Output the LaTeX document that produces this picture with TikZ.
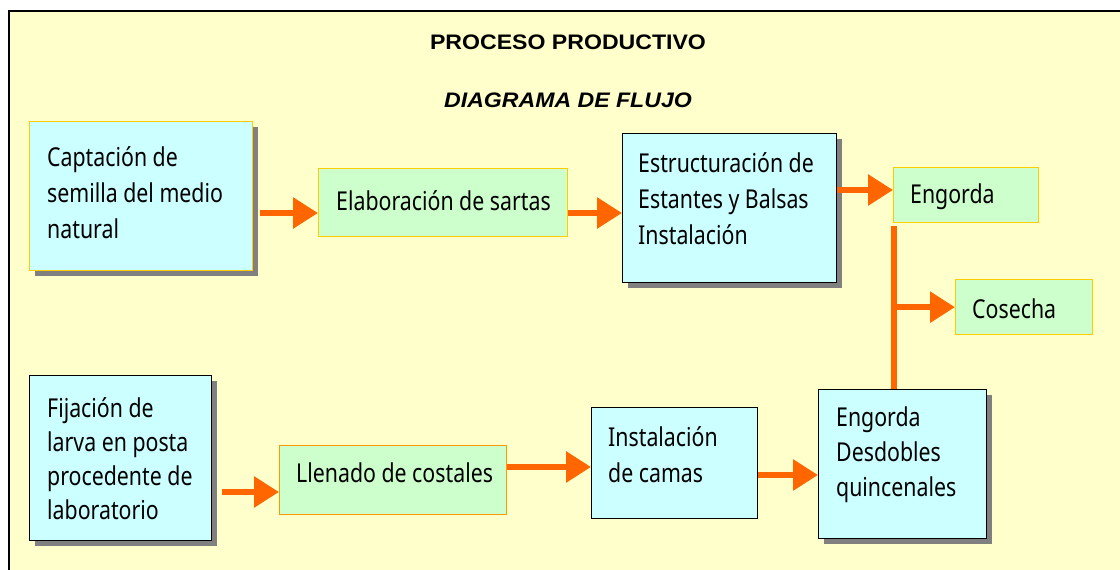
\documentclass[tikz,border=0pt]{standalone}
\usepackage{fontspec}
\setmainfont{Noto Sans}[FakeStretch=0.82]
\newfontfamily\titlefont{Liberation Sans}[FakeStretch=1.1]
\usetikzlibrary{arrows.meta}
\definecolor{bgy}{HTML}{FFFFCC}
\definecolor{cyanb}{HTML}{CCFFFF}
\definecolor{greenb}{HTML}{CCFFCC}
\definecolor{goldb}{HTML}{FFCC00}
\definecolor{orangeb}{HTML}{FF9900}
\definecolor{arrc}{HTML}{FF6600}
\definecolor{shad}{HTML}{808080}
\begin{document}
\begin{tikzpicture}[x=1pt,y=-1pt,
  bx/.style={rectangle, anchor=north west, inner sep=0pt, line width=1.3pt},
  cy/.style={bx, fill=cyanb, draw=black},
  cyg/.style={bx, fill=cyanb, draw=goldb},
  gr/.style={bx, fill=greenb, draw=goldb},
  gro/.style={bx, fill=greenb, draw=orangeb},
  shadowed/.style={preaction={fill=shad, draw=none, transform canvas={xshift=5pt, yshift=-5pt}}},
  txt/.style={anchor=west, align=left, inner sep=0pt, font=\fontsize{26}{36}\selectfont},
  ln/.style={draw=arrc, line width=6pt},
  arr/.style={ln, -{Triangle[length=25pt,width=30pt]}},
  ttl/.style={inner sep=0pt, font=\titlefont\bfseries\fontsize{21}{24}\selectfont}
]
\useasboundingbox (0,0) rectangle (1120,570);
\fill[white] (0,0) rectangle (1120,570);
\draw[fill=bgy, line width=2pt] (9,11) rectangle (1135,585);

\node[ttl] (t1) at (568,42) {PROCESO PRODUCTIVO};
\node[ttl, font=\titlefont\bfseries\itshape\fontsize{21}{24}\selectfont] (t2) at (568,100) {DIAGRAMA DE FLUJO};

% boxes
\node[cyg, shadowed, minimum width=223pt, minimum height=149pt] (capt) at (29,121) {};
\node[gr, minimum width=249pt, minimum height=68pt] (elab) at (318,168) {};
\node[cy, shadowed, minimum width=214pt, minimum height=149pt] (estr) at (622,133) {};
\node[gr, minimum width=145pt, minimum height=55pt] (eng1) at (893,167) {};
\node[gr, minimum width=137pt, minimum height=55pt] (cos) at (955,279) {};
\node[cy, shadowed, minimum width=182pt, minimum height=165pt] (fij) at (29,375) {};
\node[gro, minimum width=227pt, minimum height=69pt] (llen) at (279,445) {};
\node[cy, minimum width=166pt, minimum height=111pt] (inst) at (591,407) {};
\node[cy, shadowed, minimum width=168pt, minimum height=149pt] (engd) at (818,389) {};

% texts
\node[txt] (tcapt) at (47,193) {Captación de\\semilla del medio\\natural};
\node[txt] (telab) at (336,201) {Elaboración de sartas};
\node[txt] (testr) at (638,199) {Estructuración de\\Estantes y Balsas\\Instalación};
\node[txt] (teng1) at (910,197) {Engorda};
\node[txt] (tcos) at (972,309) {Cosecha};
\node[txt, font=\fontsize{26}{34}\selectfont] (tfij) at (47,459) {Fijación de\\larva en posta\\procedente de\\laboratorio};
\node[txt] (tllen) at (296,473) {Llenado de costales};
\node[txt] (tinst) at (608,455) {Instalación\\de camas};
\node[txt, font=\fontsize{26}{35}\selectfont] (tengd) at (836,455) {Engorda\\Desdobles\\quincenales};

% connectors
\draw[arr, shorten <=7pt] (capt.east |- 0,213) -- (elab.west |- 0,213);
\draw[arr] (elab.east |- 0,213) -- (estr.west |- 0,213);
\draw[arr] (estr.east |- 0,190) -- (eng1.west |- 0,190);
\draw[ln, shorten <=3pt] ([xshift=1pt]eng1.south west) -- ([xshift=1pt]eng1.south west |- engd.north);
\draw[arr] ([xshift=1pt]eng1.south west |- cos.west) -- (cos.west);
\draw[arr, shorten <=10pt] (fij.east |- 0,492) -- (llen.west |- 0,492);
\draw[arr] (llen.east |- 0,467) -- (inst.west |- 0,467);
\draw[arr] (inst.east |- 0,475) -- (engd.west |- 0,475);
\end{tikzpicture}
\end{document}
